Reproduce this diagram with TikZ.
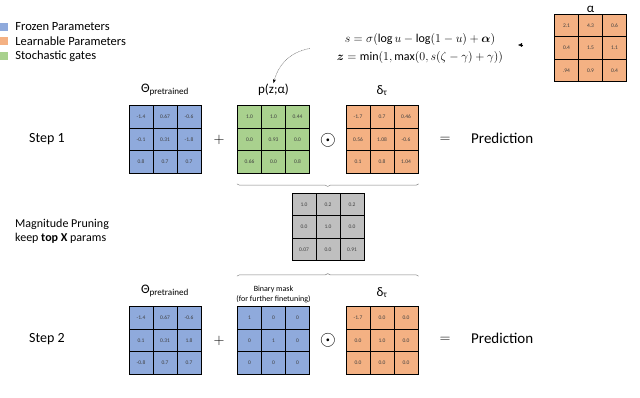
\documentclass[tikz,border=0pt]{standalone}
\usepackage{fontspec}
\setmainfont{Carlito}
\usepackage{amsmath}
\usepackage{bm}
\usetikzlibrary{matrix,positioning,arrows.meta,decorations.pathreplacing}

\definecolor{frozen}{HTML}{8FAADC}
\definecolor{learn}{HTML}{F4B183}
\definecolor{gatecol}{HTML}{A9D18E}
\definecolor{magcol}{HTML}{BFBFBF}

\tikzset{
  cellbox/.style={draw=black, line width=0.8pt, minimum width=24pt, minimum height=22.5pt,
    inner sep=0pt, text=black!75, font=\fontsize{5.5}{6}\selectfont},
  paramgrid/.style={matrix of nodes, nodes={cellbox, fill=#1}, column sep=-0.8pt,
    row sep=-0.8pt, inner sep=0pt},
  keybox/.style={minimum size=8pt, inner sep=0pt},
  keytext/.style={inner sep=1pt, font=\fontsize{12.5}{14}\selectfont},
  steptext/.style={inner sep=1pt, font=\fontsize{14}{16}\selectfont},
  toplabel/.style={inner sep=1pt, font=\fontsize{13}{15}\selectfont},
  smalllabel/.style={inner sep=1pt, align=center, font=\fontsize{8}{10.5}\selectfont},
  optext/.style={inner sep=0pt, font=\fontsize{14}{16}\selectfont},
  bracket/.style={decorate, decoration={brace, amplitude=2.5pt}, draw=gray, line width=0.5pt},
  gatearrow/.style={draw=gray, line width=0.5pt, dash pattern=on 1pt off 0.6pt,
    -{Stealth[length=4pt, width=3pt, black]}},
}

\begin{document}
\begin{tikzpicture}[x=1pt, y=1pt]
  \useasboundingbox (0,0) rectangle (640,398);

  % legend
  \node[keybox, fill=frozen] (keyfrozen) at (4,371) {};
  \node[keybox, fill=learn] (keylearn) at (4,356.5) {};
  \node[keybox, fill=gatecol] (keygate) at (4,342) {};
  \node[keytext, right=6pt of keyfrozen] (txtfrozen) {Frozen Parameters};
  \node[keytext, right=6pt of keylearn] (txtlearn) {Learnable Parameters};
  \node[keytext, right=6pt of keygate] (txtgate) {Stochastic gates};

  % gate formula and alpha
  \node[align=center, inner sep=1pt, font=\fontsize{12}{18}\selectfont] (formula) at (420,349.5)
    {$s=\sigma(\log u-\log(1-u)+\bm{\alpha})$\\
     $\bm{z}=\min(1,\max(0,s(\zeta-\gamma)+\gamma))$};
  \matrix[paramgrid=learn] (alpha) at (590.5,350) {
    2.1 & 4.3 & 0.6 \\
    0.4 & 1.5 & 1.1 \\
    .94 & 0.9 & 0.4 \\
  };
  \node[toplabel, above=0pt of alpha] (alphalab) {α};

  % step 1
  \node[steptext, anchor=west] (step1) at (28,259) {Step 1};
  \matrix[paramgrid=frozen] (theta1) at (165,258.5) {
    -1.4 & 0.67 & -0.6 \\
    -0.1 & 0.31 & -1.8 \\
    0.8 & 0.7 & 0.7 \\
  };
  \matrix[paramgrid=gatecol] (gate) at (273.5,258.5) {
    1.0 & 1.0 & 0.44 \\
    0.0 & 0.93 & 0.0 \\
    0.66 & 0.0 & 0.8 \\
  };
  \matrix[paramgrid=learn] (delta1) at (382,258.5) {
    -1.7 & 0.7 & 0.46 \\
    0.56 & 1.08 & -0.6 \\
    0.1 & 0.8 & 1.04 \\
  };
  \node[toplabel, above=8pt of theta1] (thetalab1) {Θ\textsubscript{pretrained}};
  \node[toplabel, above=8pt of gate] (plab1) {p(z;α)};
  \node[toplabel, above=8pt of delta1] (deltalab1) {δ\textsubscript{τ}};
  \node[optext] (plus1) at (219,258) {$+$};
  \node[optext, font=\fontsize{22}{22}\selectfont] (odot1) at (328,258) {$\odot$};
  \node[optext] (eq1) at (445,258) {$=$};
  \node[steptext, anchor=west, font=\fontsize{15}{17}\selectfont] (pred1) at (470,260) {Prediction};

  \draw[gatearrow] ([xshift=-26pt, yshift=0pt]formula.west) to[out=190, in=75] (plab1.north);
  \coordinate (tipbase) at (523,353);
  \draw[-{Latex[length=4pt, width=4pt]}, line width=0.4pt] (tipbase) -- ++(-5,0);

  % magnitude pruning
  \draw[bracket] ([yshift=-10pt]delta1.south east) -- ([yshift=-10pt]gate.south west);
  \node[keytext, anchor=west, align=left, font=\fontsize{12}{14}\selectfont] (prune) at (14,167)
    {Magnitude Pruning\\keep \textbf{top X} params};
  \matrix[paramgrid=magcol] (magn) at (328,171) {
    1.0 & 0.2 & 0.2 \\
    0.0 & 1.0 & 0.0 \\
    0.07 & 0.0 & 0.91 \\
  };

  % step 2
  \node[steptext, anchor=west] (step2) at (28,59) {Step 2};
  \matrix[paramgrid=frozen] (theta2) at (165,57.5) {
    -1.4 & 0.67 & -0.6 \\
    0.1 & 0.31 & 1.8 \\
    -0.8 & 0.7 & 0.7 \\
  };
  \matrix[paramgrid=frozen] (mask) at (273.5,57.5) {
    1 & 0 & 0 \\
    0 & 1 & 0 \\
    0 & 0 & 0 \\
  };
  \matrix[paramgrid=learn] (delta2) at (382,57.5) {
    -1.7 & 0.0 & 0.0 \\
    0.0 & 1.0 & 0.0 \\
    0.0 & 0.0 & 0.0 \\
  };
  \node[toplabel, above=8pt of theta2] (thetalab2) {Θ\textsubscript{pretrained}};
  \node[smalllabel, above=2pt of mask] (masklab) {Binary mask\\(for further finetuning)};
  \node[toplabel, above=7pt of delta2] (deltalab2) {δ\textsubscript{τ}};
  \node[optext] (plus2) at (219,57) {$+$};
  \node[optext, font=\fontsize{22}{22}\selectfont] (odot2) at (328,58) {$\odot$};
  \node[optext] (eq2) at (445,58) {$=$};
  \node[steptext, anchor=west, font=\fontsize{15}{17}\selectfont] (pred2) at (470,60) {Prediction};

  \draw[bracket] ([yshift=30pt]mask.north west) -- ([yshift=30pt]delta2.north east);
\end{tikzpicture}
\end{document}
